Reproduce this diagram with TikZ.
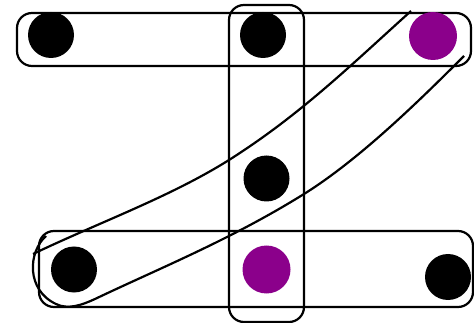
\documentclass[tikz,border=0pt]{standalone}
\definecolor{hpurple}{RGB}{139,0,139}
\begin{document}
\begin{tikzpicture}[x=1pt,y=-1pt,
  edgeline/.style={line width=2.2pt,black},
  hbox/.style={edgeline,rounded corners=15pt},
  vtx/.style={circle,fill=black,inner sep=0pt,minimum size=46pt},
  pvtx/.style={circle,fill=hpurple,inner sep=0pt,minimum size=48pt}]
\useasboundingbox (0,0) rectangle (474,323);
% hyperedges
\draw[hbox] (17,13) rectangle (471,66);
\draw[hbox] (229,5) rectangle (304,322);
\draw[hbox] (39,231) rectangle (473,307);
\coordinate (u0) at (411,11);
\coordinate (u1) at (229,160);
\coordinate (u2) at (33,254);
\draw[edgeline] (u0) .. controls (350,66) and (300,115) .. (u1)
  .. controls (170,197) and (100,222) .. (u2);
\coordinate (l0) at (46,236);
\coordinate (l1) at (56,304);
\coordinate (l2) at (95,299);
\coordinate (l3) at (304,194);
\coordinate (l4) at (464,56);
\draw[edgeline] (l0) .. controls (28,252) and (26,290) .. (l1)
  .. controls (68,310) and (82,305) .. (l2)
  .. controls (160,268) and (230,240) .. (l3)
  .. controls (360,159) and (420,100) .. (l4);
% vertices
\node[vtx] (a) at (51,35) {};
\node[vtx] (b) at (263,35) {};
\node[pvtx] (c) at (433,36) {};
\node[vtx] (d) at (266.5,178.5) {};
\node[vtx] (e) at (74,269.5) {};
\node[pvtx] (f) at (266.5,269.5) {};
\node[vtx] (g) at (448,277) {};
\end{tikzpicture}
\end{document}
